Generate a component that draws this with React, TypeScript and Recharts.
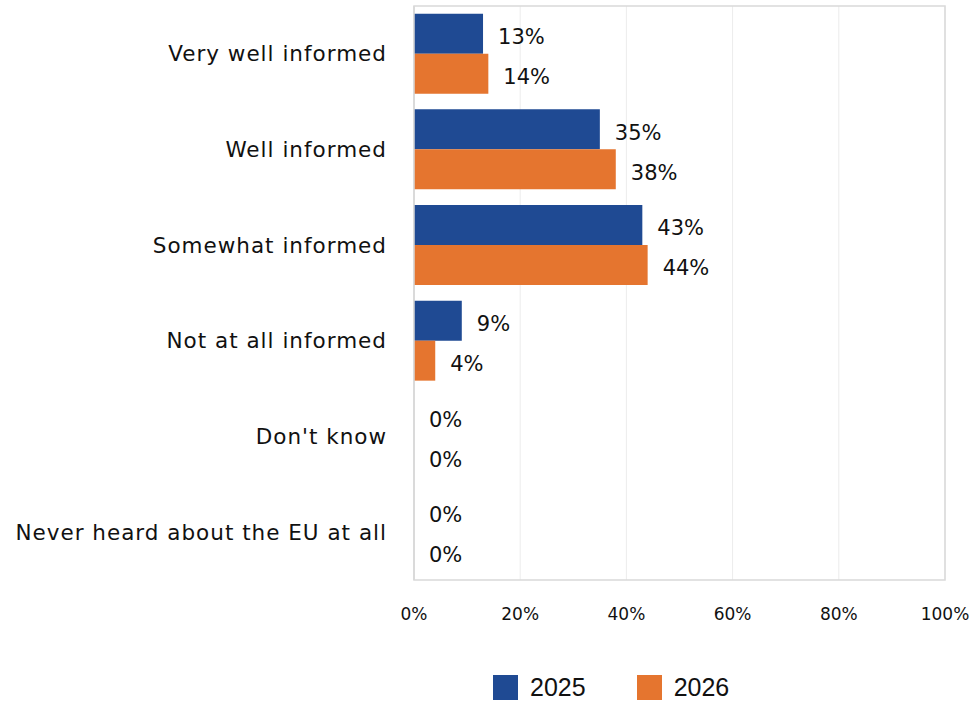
import { BarChart, Bar, XAxis, YAxis, CartesianGrid, Legend, LabelList, ReferenceArea } from 'recharts';

const categories = [
  'Very well informed',
  'Well informed',
  'Somewhat informed',
  'Not at all informed',
  "Don't know",
  'Never heard about the EU at all',
];
const values2025 = [13, 35, 43, 9, 0, 0];
const values2026 = [14, 38, 44, 4, 0, 0];
const xTicks = [0, 20, 40, 60, 80, 100];

const data = categories.map((name, i) => ({ name, y2025: values2025[i], y2026: values2026[i] }));

const FONT = '"DejaVu Sans", sans-serif';
const BLUE = '#1f4a93';
const ORANGE = '#e5752f';

function LegendBox({ payload }: any) {
  return (
    <div style={{ display: 'flex', alignItems: 'center', height: 28, fontFamily: '"Liberation Sans", Arial, sans-serif', fontSize: 25, color: '#111' }}>
      {(payload || []).map((p: any, i: number) => (
        <div key={i} style={{ display: 'flex', alignItems: 'center', marginRight: i === 0 ? 51 : 0 }}>
          <span style={{ width: 25, height: 25, background: p.color, display: 'inline-block', marginRight: 12 }} />
          <span>{p.value}</span>
        </div>
      ))}
    </div>
  );
}

const fmt = (v: any) => `${v}%`;
const labelStyle = { fill: '#111', fontSize: 21, fontFamily: FONT };

export default function App() {
  return (
    <div style={{ position: 'absolute', left: 0, top: 0, width: 973, height: 702, background: '#fff' }}>
      <BarChart
        width={973}
        height={702}
        data={data}
        layout="vertical"
        margin={{ top: 6, right: 28, bottom: 64, left: 0 }}
        barCategoryGap="8%"
        barGap={0}
      >
        <CartesianGrid horizontal={false} stroke="#ececec" />
        <ReferenceArea x1={0} x2={100} fill="none" stroke="#d9d9d9" strokeWidth={1.5} ifOverflow="visible" />
        <XAxis
          type="number"
          domain={[0, 100]}
          ticks={xTicks}
          tickFormatter={fmt}
          axisLine={false}
          tickLine={false}
          tickSize={0}
          tickMargin={28}
          height={30}
          tick={{ fill: '#111', fontSize: 17, fontFamily: FONT }}
        />
        <YAxis
          type="category"
          dataKey="name"
          width={414}
          axisLine={{ stroke: '#d9d9d9', strokeWidth: 1.5 }}
          tickLine={false}
          tickSize={0}
          tickMargin={27}
          tick={{ fill: '#111', fontSize: 21.5, fontFamily: FONT, letterSpacing: 1 }}
        />
        <Legend
          verticalAlign="bottom"
          wrapperStyle={{ left: 493, top: 673, width: 320 }}
          content={<LegendBox />}
        />
        <Bar dataKey="y2025" name="2025" fill={BLUE} minPointSize={0.01} isAnimationActive={false}>
          <LabelList dataKey="y2025" position="right" offset={15} dy={3} formatter={fmt} style={labelStyle} />
        </Bar>
        <Bar dataKey="y2026" name="2026" fill={ORANGE} minPointSize={0.01} isAnimationActive={false}>
          <LabelList dataKey="y2026" position="right" offset={15} dy={3} formatter={fmt} style={labelStyle} />
        </Bar>
      </BarChart>
    </div>
  );
}
